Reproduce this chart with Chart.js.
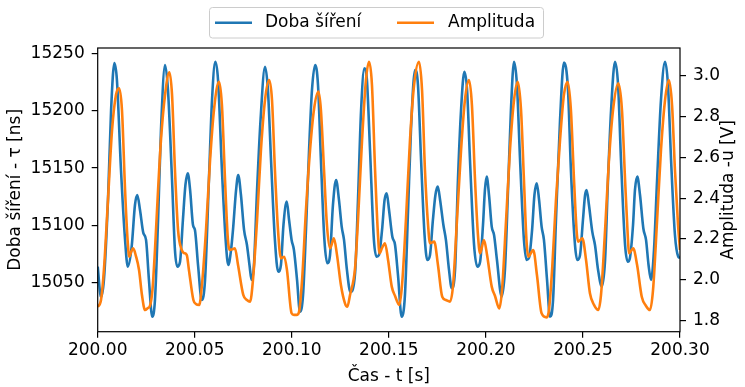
<!DOCTYPE html>
<html>
<head>
<meta charset="utf-8">
<script src="https://cdn.jsdelivr.net/npm/chart.js@4.4.0/dist/chart.umd.min.js"></script>
<style>
    html, body { margin: 0; padding: 0; background: #fff; }
    #wrap { width: 745px; height: 387px; }
</style>
</head>
<body>
<div id="wrap"><canvas id="chart" width="745" height="387"></canvas></div>
<script>
/* propagation delay (left axis) and amplitude (right axis) over 0.3 s */

// Doba šíření: time [s] / delay [ns]
const tauTime = [
    200.0000, 200.0017, 200.0032, 200.0053, 200.0069, 200.0086, 200.0099, 200.0120, 200.0141, 200.0155,
    200.0175, 200.0192, 200.0204, 200.0218, 200.0235, 200.0249, 200.0264, 200.0281, 200.0295, 200.0311, 200.0326, 200.0347, 200.0362, 200.0383, 200.0398, 200.0410,
    200.0424, 200.0439, 200.0452, 200.0464, 200.0476, 200.0491, 200.0501, 200.0517, 200.0536, 200.0553, 200.0573, 200.0589, 200.0606, 200.0620, 200.0640, 200.0661, 200.0673,
    200.0687, 200.0697, 200.0713, 200.0724, 200.0738, 200.0754, 200.0769, 200.0782, 200.0793, 200.0805, 200.0821, 200.0839, 200.0862, 200.0877, 200.0893, 200.0913, 200.0930,
    200.0944, 200.0957, 200.0974, 200.0986, 200.0999, 200.1011, 200.1027, 200.1042, 200.1058, 200.1073, 200.1089, 200.1104, 200.1120, 200.1135, 200.1150, 200.1168, 200.1183,
    200.1197, 200.1212, 200.1228, 200.1243, 200.1257, 200.1269, 200.1284, 200.1302, 200.1326, 200.1341, 200.1357, 200.1374, 200.1387, 200.1403, 200.1423, 200.1437,
    200.1449, 200.1465, 200.1478, 200.1489, 200.1501, 200.1518, 200.1532, 200.1547, 200.1566, 200.1583, 200.1599, 200.1614, 200.1635, 200.1650, 200.1666, 200.1684, 200.1698,
    200.1712, 200.1727, 200.1740, 200.1752, 200.1764, 200.1781, 200.1794, 200.1810, 200.1824, 200.1841, 200.1856, 200.1872, 200.1889, 200.1903, 200.1918, 200.1939, 200.1956,
    200.1970, 200.1985, 200.1995, 200.2004, 200.2016, 200.2030, 200.2042, 200.2057, 200.2081, 200.2098, 200.2114, 200.2129, 200.2145, 200.2160, 200.2176, 200.2196, 200.2210,
    200.2222, 200.2238, 200.2250, 200.2262, 200.2274, 200.2287, 200.2299, 200.2315, 200.2330, 200.2346, 200.2361, 200.2382, 200.2402, 200.2423, 200.2438, 200.2459, 200.2471,
    200.2485, 200.2500, 200.2511, 200.2519, 200.2531, 200.2548, 200.2562, 200.2578, 200.2597, 200.2614, 200.2629, 200.2645, 200.2665, 200.2681, 200.2696, 200.2717, 200.2731,
    200.2742, 200.2758, 200.2768, 200.2780, 200.2794, 200.2811, 200.2825, 200.2838, 200.2851, 200.2866, 200.2882, 200.2902, 200.2923, 200.2938, 200.2954, 200.2974, 200.2991, 200.3000
];
const tauVals = [
    15064.0, 15037.5, 15052.4, 15122.2, 15200.7, 15241.7, 15226.9, 15148.3, 15087.3, 15064.0,
    15081.4, 15117.8, 15126.5, 15113.4, 15093.4, 15087.3, 15052.4, 15020.3, 15034.9, 15104.7, 15183.2, 15240.0, 15218.2, 15139.6, 15078.5, 15064.0,
    15068.1, 15104.7, 15135.3, 15145.5, 15130.9, 15100.3, 15096.0, 15065.4, 15034.9, 15052.4, 15139.6, 15209.4, 15242.8, 15226.9, 15148.3, 15082.9, 15065.4,
    15078.5, 15096.0, 15130.9, 15144.0, 15126.5, 15096.0, 15082.9, 15065.4, 15052.4, 15065.4, 15130.9, 15192.0, 15238.5, 15218.2, 15157.1, 15087.3, 15059.6,
    15065.4, 15100.3, 15120.7, 15104.7, 15087.3, 15078.5, 15052.4, 15024.7, 15039.3, 15096.0, 15165.8, 15218.2, 15240.0, 15222.5, 15157.1, 15087.3, 15066.9,
    15074.2, 15117.8, 15139.6, 15122.2, 15098.9, 15087.3, 15061.1, 15041.9, 15058.2, 15122.2, 15200.7, 15237.1, 15226.9, 15165.8, 15087.3, 15072.7,
    15074.2, 15096.0, 15122.2, 15128.0, 15113.4, 15090.1, 15082.9, 15056.7, 15020.3, 15039.3, 15113.4, 15183.2, 15235.6, 15222.5, 15157.1, 15091.6, 15069.8,
    15074.2, 15104.7, 15126.5, 15133.8, 15122.2, 15100.3, 15087.3, 15061.1, 15045.1, 15061.1, 15139.6, 15200.7, 15234.1, 15218.2, 15157.1, 15082.9, 15064.0,
    15068.1, 15100.3, 15130.9, 15142.5, 15126.5, 15098.9, 15091.6, 15069.8, 15037.8, 15061.1, 15130.9, 15200.7, 15242.8, 15222.5, 15157.1, 15087.3, 15069.8,
    15071.6, 15096.0, 15126.5, 15136.7, 15122.2, 15098.9, 15087.3, 15052.4, 15020.3, 15034.9, 15104.7, 15192.0, 15242.0, 15218.2, 15148.3, 15082.9, 15069.8,
    15074.2, 15104.7, 15126.5, 15130.9, 15117.8, 15094.5, 15082.9, 15061.1, 15046.5, 15069.8, 15139.6, 15200.7, 15242.8, 15222.5, 15157.1, 15082.9, 15068.3,
    15071.6, 15100.3, 15130.9, 15142.5, 15126.5, 15097.5, 15087.3, 15065.4, 15052.4, 15078.5, 15139.6, 15209.4, 15242.8, 15222.5, 15157.1, 15091.6, 15072.7, 15071.6
];

// Amplituda: time [s] / voltage [V]
const ampTime = [
    200.0000, 200.0017, 200.0032, 200.0053, 200.0074, 200.0094, 200.0110, 200.0125, 200.0141, 200.0154,
    200.0163, 200.0172, 200.0183, 200.0197, 200.0213, 200.0228, 200.0244, 200.0259, 200.0269, 200.0282, 200.0295, 200.0311, 200.0326, 200.0347, 200.0369, 200.0383, 200.0398, 200.0414,
    200.0433, 200.0445, 200.0459, 200.0470, 200.0493, 200.0506, 200.0523, 200.0537, 200.0558, 200.0579, 200.0599, 200.0625, 200.0640, 200.0656, 200.0671,
    200.0682, 200.0697, 200.0707, 200.0723, 200.0750, 200.0769, 200.0785, 200.0800, 200.0821, 200.0841, 200.0862, 200.0883, 200.0898, 200.0913, 200.0929,
    200.0944, 200.0961, 200.0975, 200.0999, 200.1011, 200.1025, 200.1037, 200.1053, 200.1073, 200.1094, 200.1114, 200.1137, 200.1150, 200.1166, 200.1181,
    200.1197, 200.1217, 200.1233, 200.1253, 200.1274, 200.1286, 200.1300, 200.1326, 200.1341, 200.1362, 200.1382, 200.1398, 200.1413, 200.1429, 200.1444,
    200.1452, 200.1465, 200.1480, 200.1496, 200.1515, 200.1532, 200.1554, 200.1568, 200.1588, 200.1609, 200.1630, 200.1655, 200.1671, 200.1686, 200.1702,
    200.1712, 200.1734, 200.1753, 200.1775, 200.1794, 200.1815, 200.1831, 200.1851, 200.1872, 200.1892, 200.1913, 200.1928, 200.1944, 200.1959,
    200.1970, 200.1990, 200.2006, 200.2030, 200.2047, 200.2069, 200.2083, 200.2104, 200.2124, 200.2145, 200.2164, 200.2181, 200.2196, 200.2209,
    200.2218, 200.2244, 200.2263, 200.2287, 200.2313, 200.2325, 200.2341, 200.2361, 200.2382, 200.2402, 200.2421, 200.2438, 200.2454, 200.2469,
    200.2476, 200.2497, 200.2516, 200.2536, 200.2557, 200.2579, 200.2593, 200.2614, 200.2634, 200.2655, 200.2682, 200.2701, 200.2717, 200.2732,
    200.2737, 200.2759, 200.2779, 200.2803, 200.2825, 200.2845, 200.2861, 200.2882, 200.2902, 200.2923, 200.2943, 200.2959, 200.2974, 200.2990, 200.3000
];
const ampVals = [
    1.865, 1.899, 2.047, 2.391, 2.735, 2.907, 2.940, 2.833, 2.440, 2.194,
    2.112, 2.135, 2.153, 2.115, 2.047, 1.924, 1.850, 1.860, 1.870, 1.948, 2.145, 2.440, 2.686, 2.907, 3.018, 2.907, 2.538, 2.243,
    2.145, 2.130, 2.120, 2.047, 1.899, 1.880, 1.875, 1.973, 2.243, 2.587, 2.833, 2.972, 2.857, 2.489, 2.194,
    2.145, 2.150, 2.153, 2.071, 1.924, 1.899, 1.891, 1.998, 2.292, 2.636, 2.882, 2.980, 2.882, 2.538, 2.243,
    2.104, 2.112, 2.047, 1.834, 1.826, 1.826, 1.840, 1.998, 2.342, 2.636, 2.833, 2.923, 2.833, 2.538, 2.268,
    2.153, 2.202, 2.120, 1.973, 1.883, 1.866, 1.924, 2.057, 2.292, 2.686, 2.980, 3.070, 2.956, 2.538, 2.219,
    2.129, 2.155, 2.178, 2.096, 1.965, 1.919, 1.875, 1.973, 2.292, 2.686, 2.956, 3.070, 2.931, 2.538, 2.268,
    2.178, 2.186, 2.071, 1.915, 1.899, 1.891, 1.973, 2.292, 2.636, 2.882, 2.980, 2.857, 2.489, 2.219,
    2.129, 2.194, 2.120, 1.965, 1.919, 1.858, 1.948, 2.292, 2.636, 2.882, 2.972, 2.833, 2.489, 2.194,
    2.112, 2.145, 2.022, 1.834, 1.814, 1.850, 2.047, 2.391, 2.686, 2.907, 2.972, 2.833, 2.489, 2.219,
    2.186, 2.202, 2.096, 1.932, 1.875, 1.850, 1.924, 2.243, 2.587, 2.833, 2.964, 2.833, 2.489, 2.194,
    2.129, 2.153, 2.071, 1.915, 1.870, 1.850, 1.948, 2.292, 2.636, 2.882, 2.980, 2.857, 2.538, 2.268, 2.145
];

const timeTicks = [200.00, 200.05, 200.10, 200.15, 200.20, 200.25, 200.30];
const tauTicks = [15050, 15100, 15150, 15200, 15250];
const ampTicks = [1.8, 2.0, 2.2, 2.4, 2.6, 2.8, 3.0];

const seriesLabels = ['Doba šíření', 'Amplituda'];
const BLUE = '#1f77b4';
const ORANGE = '#ff7f0e';
const FONT = '"DejaVu Sans", sans-serif';
const FS = 17;

function pairs(xs, ys) {
    const n = Math.min(xs.length, ys.length);
    const out = [];
    for (let i = 0; i < n; i++) out.push({ x: xs[i], y: ys[i] });
    return out;
}

function fixTicks(list) {
    return scale => { scale.ticks = list.map(v => ({ value: v })); };
}

/* matplotlib-like frame, legend box and right axis label */
const decor = {
    id: 'decor',
    afterDraw(chart) {
        const { ctx, chartArea: a } = chart;
        ctx.save();
        ctx.strokeStyle = '#000';
        ctx.lineWidth = 1.2;
        ctx.strokeRect(a.left, a.top, a.right - a.left, a.bottom - a.top);

        // right label reads bottom-to-top
        ctx.save();
        ctx.translate(729, (a.top + a.bottom) / 2);
        ctx.rotate(-Math.PI / 2);
        ctx.fillStyle = '#000';
        ctx.font = FS + 'px ' + FONT;
        ctx.textAlign = 'center';
        ctx.textBaseline = 'middle';
        ctx.fillText('Amplituda -u [V]', 0, 0);
        ctx.restore();

        // legend
        const bx = 209, by = 7, bw = 334, bh = 30.5;
        ctx.beginPath();
        ctx.roundRect(bx + 0.5, by + 0.5, bw, bh, 3);
        ctx.fillStyle = 'rgba(255,255,255,0.8)';
        ctx.fill();
        ctx.strokeStyle = '#cccccc';
        ctx.lineWidth = 1;
        ctx.stroke();

        const ly = by + bh / 2 + 0.5;
        const items = [
            { x0: 215, x1: 252, tx: 265, color: BLUE, text: seriesLabels[0] },
            { x0: 397, x1: 434, tx: 448, color: ORANGE, text: seriesLabels[1] }
        ];
        ctx.font = FS + 'px ' + FONT;
        ctx.textBaseline = 'middle';
        ctx.textAlign = 'left';
        items.forEach(it => {
            ctx.beginPath();
            ctx.moveTo(it.x0, ly);
            ctx.lineTo(it.x1, ly);
            ctx.strokeStyle = it.color;
            ctx.lineWidth = 2.6;
            ctx.stroke();
            ctx.fillStyle = '#000';
            ctx.fillText(it.text, it.tx, ly);
        });
        ctx.restore();
    }
};

Chart.defaults.font.family = FONT;
Chart.defaults.font.size = FS;
Chart.defaults.color = '#000';

const tickGrid = { drawOnChartArea: false, drawTicks: true, tickLength: 6, color: '#000', lineWidth: 1.2 };

new Chart(document.getElementById('chart').getContext('2d'), {
    type: 'line',
    data: {
        datasets: [
            {
                label: seriesLabels[0],
                data: pairs(tauTime, tauVals),
                yAxisID: 'y',
                borderColor: BLUE,
                borderWidth: 2.6,
                pointRadius: 0,
                cubicInterpolationMode: 'monotone',
                order: 1
            },
            {
                label: seriesLabels[1],
                data: pairs(ampTime, ampVals),
                yAxisID: 'y1',
                borderColor: ORANGE,
                borderWidth: 2.6,
                pointRadius: 0,
                cubicInterpolationMode: 'monotone',
                order: 0
            }
        ]
    },
    options: {
        responsive: false,
        animation: false,
        devicePixelRatio: 1,
        layout: { padding: { top: 48, left: 0, right: 0, bottom: 0 } },
        plugins: { legend: { display: false }, tooltip: { enabled: false } },
        scales: {
            x: {
                type: 'linear',
                min: 200.0, max: 200.3,
                afterBuildTicks: fixTicks(timeTicks),
                afterFit: s => { s.height = 55.3; },
                ticks: { padding: 3, maxRotation: 0, callback: v => v.toFixed(2) },
                grid: tickGrid,
                border: { display: false },
                title: { display: true, text: 'Čas - t [s]', padding: { top: 0, bottom: 0 } }
            },
            y: {
                position: 'left',
                min: 15007.2, max: 15254.8,
                afterBuildTicks: fixTicks(tauTicks),
                afterFit: s => { s.width = 97.7; },
                ticks: { padding: 7, callback: v => String(v) },
                grid: tickGrid,
                border: { display: false },
                title: { display: true, text: 'Doba šíření - τ [ns]', padding: { top: 5, bottom: 0 } }
            },
            y1: {
                position: 'right',
                min: 1.7435, max: 3.1376,
                afterBuildTicks: fixTicks(ampTicks),
                afterFit: s => { s.width = 65; },
                ticks: { padding: 7, callback: v => v.toFixed(1) },
                grid: tickGrid,
                border: { display: false }
            }
        }
    },
    plugins: [decor]
});
</script>
</body>
</html>
